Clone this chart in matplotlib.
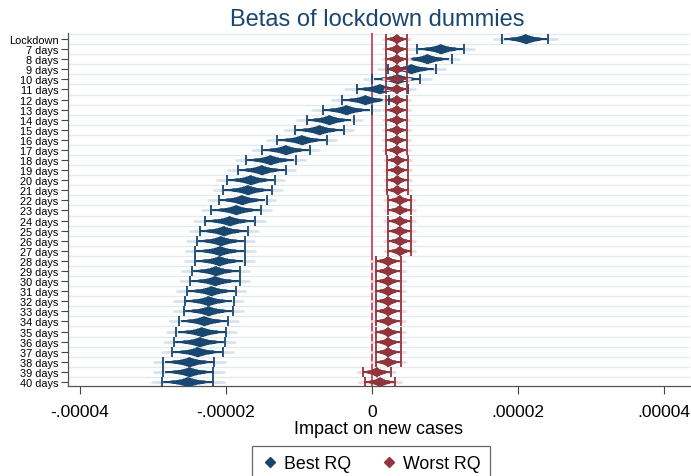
import numpy as np
import matplotlib
matplotlib.use("Agg")
import matplotlib.pyplot as plt
from matplotlib.lines import Line2D
from statistics import NormalDist

plt.rcParams['font.family'] = ['Liberation Sans', 'DejaVu Sans']

# rows, top to bottom
labels = ["Lockdown"] + [f"{d} days" for d in range(7, 41)]

# point estimates and 95% bounds, in units of 1e-5
best_coef = [2.11, 0.945, 0.76, 0.54, 0.35, 0.11, -0.09, -0.35, -0.585, -0.72,
             -0.96, -1.18, -1.39, -1.51, -1.66, -1.70, -1.78, -1.86, -1.95, -2.03,
             -2.07, -2.08, -2.09, -2.14, -2.15, -2.20, -2.24, -2.24, -2.30, -2.33,
             -2.36, -2.39, -2.50, -2.50, -2.52]
best_lo = [1.79, 0.62, 0.48, 0.22, 0.00, -0.20, -0.41, -0.67, -0.89, -1.05,
           -1.30, -1.51, -1.72, -1.84, -1.99, -2.04, -2.10, -2.20, -2.29, -2.36,
           -2.40, -2.42, -2.42, -2.47, -2.49, -2.53, -2.56, -2.58, -2.64, -2.68,
           -2.71, -2.74, -2.86, -2.86, -2.88]
best_hi = [2.41, 1.27, 1.10, 0.88, 0.66, 0.49, 0.24, 0.00, -0.25, -0.38,
           -0.62, -0.85, -1.04, -1.18, -1.33, -1.37, -1.44, -1.52, -1.60, -1.69,
           -1.74, -1.74, -1.74, -1.81, -1.81, -1.86, -1.89, -1.90, -1.97, -2.00,
           -2.01, -2.04, -2.16, -2.17, -2.17]

worst_coef = [0.34] * 12 + [0.35] * 4 + [0.38] * 6 + [0.22] * 11 + [0.065, 0.11]
worst_lo = [0.20] * 12 + [0.21] * 4 + [0.22] * 6 + [0.06] * 11 + [-0.12, -0.10]
worst_hi = [0.48] * 12 + [0.49] * 4 + [0.54] * 6 + [0.40] * 11 + [0.26, 0.32]

xticks = [-4e-5, -2e-5, 0, 2e-5, 4e-5]
xticklabels = ["-.00004", "-.00002", "0", ".00002", ".00004"]

NAVY, NAVY_LIGHT = "#1a476f", "#d9e2ea"
MAROON, MAROON_LIGHT = "#90353b", "#efd8da"

fig = plt.figure(figsize=(6.91, 4.77), dpi=100)
ax = fig.add_axes([0.0984, 0.1887, 0.8996, 0.7390])

y = np.arange(len(labels))
nd = NormalDist()
levels = np.linspace(0.5, 99.5, 90)


def smooth_ci(coef, lo, hi, dark, light):
    coef = np.array(coef) * 1e-5
    lo = np.array(lo) * 1e-5
    hi = np.array(hi) * 1e-5
    se = (hi - lo) / 3.92
    # widest (thin, pale) levels first, narrow thick ones on top
    for L in levels[::-1]:
        z = nd.inv_cdf(0.5 + L / 200)
        if L > 95:
            color, lw = light, 1.8
        else:
            color, lw = dark, 1.3 + 5.6 * (1 - L / 95) ** 1.5
        ax.hlines(y, coef - z * se, coef + z * se, colors=color, lw=lw, zorder=3)
    ax.plot(lo, y, '|', color=dark, ms=7, mew=1.3, zorder=4)
    ax.plot(hi, y, '|', color=dark, ms=7, mew=1.3, zorder=4)
    ax.plot(coef, y, 'D', color=dark, ms=5, mew=0, zorder=5)


# grid between rows and reference line at zero
for g in np.arange(-0.5, len(labels), 1.0):
    ax.axhline(g, color="#e3ebef", lw=1.0, zorder=0)
ax.axvline(0, color="#c3223a", lw=1.1, zorder=1)

smooth_ci(best_coef, best_lo, best_hi, NAVY, NAVY_LIGHT)
smooth_ci(worst_coef, worst_lo, worst_hi, MAROON, MAROON_LIGHT)

ax.set_ylim(34.4, -0.55)
ax.set_xlim(-4.164e-5, 4.356e-5)
ax.set_yticks(y)
ax.set_yticklabels(labels, fontsize=7.9)
ax.set_xticks(xticks)
ax.set_xticklabels(xticklabels, fontsize=12.5)
ax.tick_params(axis='y', length=5, width=0.8, color="#444444", pad=2)
ax.tick_params(axis='x', length=6, width=0.8, color="#444444", pad=7)
for side in ["top", "right"]:
    ax.spines[side].set_visible(False)
for side in ["left", "bottom"]:
    ax.spines[side].set_color("#555555")
    ax.spines[side].set_linewidth(0.9)

ax.set_xlabel("Impact on new cases", fontsize=13, labelpad=1)
fig.text(0.546, 0.958, "Betas of lockdown dummies", fontsize=17, color=NAVY,
         ha="center", va="center")

handles = [Line2D([], [], marker='D', color=NAVY, ls='none', ms=5),
           Line2D([], [], marker='D', color=MAROON, ls='none', ms=5)]
leg = fig.legend(handles, ["Best RQ", "Worst RQ"], loc="upper center",
                 bbox_to_anchor=(0.537, 0.063), ncol=2, fontsize=12.8,
                 frameon=True, fancybox=False, edgecolor="#444444",
                 handletextpad=0.3, columnspacing=1.6, handlelength=1.0,
                 borderpad=0.5, borderaxespad=0)
leg.get_frame().set_linewidth(0.9)

fig.savefig("out.png", dpi=100)
